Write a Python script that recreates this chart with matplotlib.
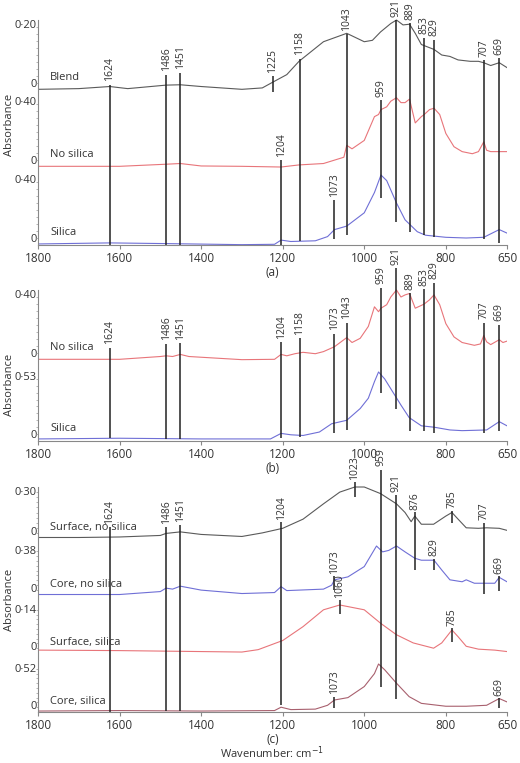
import matplotlib
matplotlib.use("Agg")
import matplotlib.pyplot as plt

plt.rcParams['font.family'] = ['Open Sans', 'DejaVu Sans']

GRAY = '#5a5a5a'
RED = '#e8757a'
BLUE = '#6f6fd6'
MAUVE = '#a8606e'

# ---------- Panel (a) traces (fraction of block) ----------
a_blend_x = [1800, 1700, 1624, 1580, 1486, 1451, 1400, 1300, 1250, 1225, 1190, 1160, 1100, 1043, 1000, 980, 960, 935, 921, 905, 889, 875, 860, 829, 810, 790, 770, 740, 720, 707, 690, 669, 650]
a_blend_y = [0.01, 0.02, 0.05, 0.02, 0.07, 0.075, 0.05, 0.01, 0.03, 0.11, 0.22, 0.41, 0.69, 0.81, 0.69, 0.71, 0.83, 0.95, 1.0, 0.93, 0.94, 0.81, 0.65, 0.58, 0.50, 0.48, 0.43, 0.41, 0.41, 0.39, 0.35, 0.39, 0.32]
a_nos_x = [1800, 1600, 1486, 1451, 1400, 1300, 1204, 1160, 1100, 1050, 1043, 1030, 1000, 975, 965, 959, 945, 935, 921, 910, 900, 889, 875, 860, 853, 840, 829, 815, 800, 780, 760, 735, 720, 707, 700, 690, 669, 650]
a_nos_y = [0.01, 0.01, 0.04, 0.05, 0.015, 0.01, 0.0, 0.03, 0.05, 0.14, 0.31, 0.26, 0.38, 0.72, 0.75, 0.82, 0.86, 0.94, 0.99, 0.92, 0.92, 0.97, 0.63, 0.72, 0.75, 0.82, 0.84, 0.75, 0.48, 0.29, 0.22, 0.19, 0.22, 0.36, 0.24, 0.22, 0.22, 0.22]
a_sil_x = [1800, 1624, 1486, 1300, 1220, 1204, 1180, 1120, 1090, 1073, 1043, 1000, 975, 959, 945, 921, 900, 870, 850, 800, 750, 707, 669, 650]
a_sil_y = [0.015, 0.03, 0.02, 0.005, 0.01, 0.07, 0.05, 0.06, 0.12, 0.22, 0.27, 0.46, 0.75, 1.0, 0.92, 0.60, 0.36, 0.19, 0.14, 0.11, 0.10, 0.11, 0.22, 0.17]

# ---------- Panel (b) traces ----------
b_nos_x = [1800, 1600, 1500, 1486, 1470, 1451, 1430, 1300, 1220, 1204, 1190, 1170, 1150, 1120, 1100, 1073, 1043, 1030, 1010, 990, 975, 965, 959, 945, 935, 921, 910, 900, 889, 875, 860, 853, 840, 829, 815, 800, 780, 760, 730, 715, 707, 700, 690, 669, 660, 650]
b_nos_y = [0.01, 0.01, 0.05, 0.06, 0.05, 0.08, 0.05, 0.005, 0.01, 0.08, 0.06, 0.09, 0.11, 0.09, 0.12, 0.19, 0.32, 0.25, 0.31, 0.48, 0.76, 0.69, 0.74, 0.79, 0.90, 1.0, 0.90, 0.93, 0.95, 0.74, 0.78, 0.80, 0.86, 0.93, 0.79, 0.52, 0.33, 0.25, 0.21, 0.23, 0.35, 0.26, 0.22, 0.29, 0.25, 0.27]
b_sil_x = [1800, 1600, 1400, 1230, 1204, 1180, 1150, 1110, 1080, 1043, 1010, 990, 975, 965, 950, 930, 910, 890, 860, 829, 790, 760, 700, 669, 650]
b_sil_y = [0.03, 0.04, 0.03, 0.03, 0.11, 0.09, 0.08, 0.13, 0.25, 0.30, 0.47, 0.62, 0.86, 1.0, 0.90, 0.71, 0.52, 0.34, 0.22, 0.20, 0.16, 0.15, 0.16, 0.28, 0.22]

# ---------- Panel (c) traces ----------
c_sns_x = [1800, 1700, 1600, 1500, 1486, 1451, 1400, 1300, 1250, 1200, 1150, 1100, 1060, 1023, 1000, 960, 921, 900, 885, 876, 860, 830, 800, 785, 770, 750, 720, 700, 669, 650]
c_sns_y = [0.01, 0.01, 0.02, 0.05, 0.09, 0.12, 0.07, 0.03, 0.10, 0.19, 0.37, 0.67, 0.90, 1.0, 1.0, 0.87, 0.67, 0.50, 0.32, 0.43, 0.27, 0.27, 0.43, 0.50, 0.37, 0.20, 0.19, 0.20, 0.19, 0.15]
c_cns_x = [1800, 1600, 1500, 1486, 1470, 1451, 1400, 1300, 1220, 1204, 1190, 1100, 1080, 1073, 1040, 1000, 970, 955, 940, 921, 900, 876, 860, 829, 810, 790, 760, 750, 730, 707, 680, 669, 650]
c_cns_y = [0.01, 0.01, 0.07, 0.14, 0.12, 0.18, 0.10, 0.03, 0.05, 0.17, 0.09, 0.12, 0.20, 0.31, 0.37, 0.58, 1.0, 0.88, 0.91, 1.0, 0.88, 0.75, 0.71, 0.71, 0.51, 0.31, 0.27, 0.31, 0.24, 0.24, 0.24, 0.36, 0.27]
c_ss_x = [1800, 1600, 1400, 1300, 1260, 1200, 1150, 1100, 1060, 1000, 960, 921, 880, 830, 810, 785, 770, 750, 720, 680, 650]
c_ss_y = [0.06, 0.05, 0.03, 0.02, 0.07, 0.26, 0.55, 0.90, 1.0, 0.90, 0.62, 0.38, 0.21, 0.10, 0.21, 0.48, 0.34, 0.14, 0.08, 0.06, 0.03]
c_cs_x = [1800, 1600, 1400, 1220, 1204, 1180, 1120, 1090, 1073, 1040, 1000, 975, 965, 950, 921, 890, 860, 800, 750, 700, 669, 650]
c_cs_y = [0.02, 0.03, 0.02, 0.03, 0.10, 0.05, 0.06, 0.14, 0.25, 0.30, 0.53, 0.80, 1.0, 0.88, 0.60, 0.32, 0.18, 0.12, 0.12, 0.14, 0.28, 0.21]

# ---------- Band marker lines: wavenumber, top, bottom (panel units) ----------
a_lines_wn = [1624, 1486, 1451, 1225, 1204, 1158, 1073, 1043, 959, 921, 889, 853, 829, 707, 669]
a_lines_top = [2.29, 2.43, 2.46, 2.41, 1.21, 2.66, 0.64, 3.01, 2.07, 3.21, 3.17, 2.96, 2.93, 2.64, 2.67]
a_lines_bot = [0.0, 0.0, 0.0, 2.19, 0.0, 0.06, 0.09, 0.14, 0.67, 0.33, 0.19, 0.14, 0.11, 0.09, 0.03]

b_lines_wn = [1624, 1486, 1451, 1204, 1158, 1073, 1043, 959, 921, 889, 853, 829, 707, 669]
b_lines_top = [1.33, 1.39, 1.40, 1.41, 1.47, 1.53, 1.69, 2.19, 2.47, 2.11, 2.17, 2.26, 1.69, 1.66]
b_lines_bot = [0.04, 0.03, 0.03, 0.04, 0.06, 0.11, 0.16, 0.69, 0.46, 0.14, 0.14, 0.11, 0.11, 0.14]

c_lines_wn = [1624, 1486, 1451, 1204, 1073, 1060, 1023, 959, 921, 876, 829, 785, 785, 707, 669, 1073, 669]
c_lines_top = [3.70, 3.70, 3.74, 3.80, 2.72, 2.24, 4.60, 4.86, 4.34, 4.00, 3.06, 4.02, 1.68, 3.78, 2.72, 0.30, 0.28]
c_lines_bot = [0.0, 0.02, 0.02, 0.14, 2.44, 1.96, 4.30, 0.50, 0.26, 2.84, 2.84, 3.78, 1.40, 2.36, 2.42, 0.08, 0.08]

x_ticks = [1800, 1600, 1400, 1200, 1000, 800, 650]

FIG_W, FIG_H = 520, 763
fig = plt.figure(figsize=(5.2, 7.63), dpi=100)


def make_axes(top_px, bot_px, unit_px):
    ax = fig.add_axes([38 / FIG_W, 1 - bot_px / FIG_H, 469 / FIG_W, (bot_px - top_px) / FIG_H])
    ax.set_xlim(1800, 650)
    ax.set_ylim(0, (bot_px - top_px) / unit_px)
    ax.patch.set_alpha(0)
    for s in ['top', 'right']:
        ax.spines[s].set_visible(False)
    ax.spines['left'].set_color('#888888')
    ax.spines['bottom'].set_color('#888888')
    ax.set_xticks(x_ticks)
    ax.set_xticklabels([str(t) for t in x_ticks], fontsize=8.5, color='#333333')
    ax.tick_params(axis='x', length=3, color='#888888', pad=2)
    ax.tick_params(axis='y', length=0, pad=1, labelsize=8, labelcolor='#333333')
    return ax


def draw_panel(ax, traces, lines, letter):
    yt, yl, minor = [], [], []
    for (xs, ys, base, h, color, name, toplabel) in traces:
        ax.plot(xs, [base + h * v for v in ys], color=color, lw=0.8)
        yt += [base, base + h]
        yl += ['0', toplabel]
        minor += [base + h * k / 10 for k in range(1, 10)]
        ax.text(1770, base + 0.1, name, fontsize=8, color='#333333', ha='left', va='bottom')
    ax.set_yticks(yt, yl)
    for lab, txt in zip(ax.get_yticklabels(), yl):
        lab.set_va('top' if txt != '0' else 'bottom')
    ax.set_yticks(minor, minor=True)
    ax.tick_params(axis='y', which='minor', length=1.5, color='#aaaaaa')
    ax.spines['left'].set_bounds(0, max(yt))
    wn, top, bot = lines
    ax.vlines(wn, bot, top, color='#222222', lw=1.1)
    for w, t in zip(wn, top):
        ax.text(w, t + 0.05, str(w), rotation=90, fontsize=7.5, ha='center', va='bottom',
                color='#333333', clip_on=False)
    ax.text(0.5, -0.085 if letter != '(b)' else -0.12, letter, transform=ax.transAxes,
            ha='center', va='top', fontsize=8.5, color='#333333')


ax_a = make_axes(0, 245, 70)
draw_panel(ax_a, [
    (a_sil_x, a_sil_y, 0.0, 1.0, BLUE, 'Silica', '0·40'),
    (a_nos_x, a_nos_y, 1.114, 1.0, RED, 'No silica', '0·40'),
    (a_blend_x, a_blend_y, 2.214, 1.0, GRAY, 'Blend', '0·20'),
], (a_lines_wn, a_lines_top, a_lines_bot), '(a)')

ax_b = make_axes(262, 441, 70)
draw_panel(ax_b, [
    (b_sil_x, b_sil_y, 0.0, 0.986, BLUE, 'Silica', '0·53'),
    (b_nos_x, b_nos_y, 1.157, 1.0, RED, 'No silica', '0·40'),
], (b_lines_wn, b_lines_top, b_lines_bot), '(b)')

ax_c = make_axes(470, 712, 50)
draw_panel(ax_c, [
    (c_cs_x, c_cs_y, 0.0, 0.96, MAUVE, 'Core, silica', '0·52'),
    (c_ss_x, c_ss_y, 1.18, 0.96, RED, 'Surface, silica', '0·14'),
    (c_cns_x, c_cns_y, 2.34, 0.98, BLUE, 'Core, no silica', '0·38'),
    (c_sns_x, c_sns_y, 3.48, 1.02, GRAY, 'Surface, no silica', '0·30'),
], (c_lines_wn, c_lines_top, c_lines_bot), '(c)')

fig.text(272 / FIG_W, 1 - 753 / FIG_H, 'Wavenumber: cm$^{-1}$', ha='center', va='center',
         fontsize=8, color='#333333')
fig.text(10 / FIG_W, 1 - 125 / FIG_H, 'Absorbance', rotation=90, ha='center', va='center', fontsize=8, color='#333333')
fig.text(10 / FIG_W, 1 - 385 / FIG_H, 'Absorbance', rotation=90, ha='center', va='center', fontsize=8, color='#333333')
fig.text(10 / FIG_W, 1 - 600 / FIG_H, 'Absorbance', rotation=90, ha='center', va='center', fontsize=8, color='#333333')

fig.savefig('out.png', dpi=100)
